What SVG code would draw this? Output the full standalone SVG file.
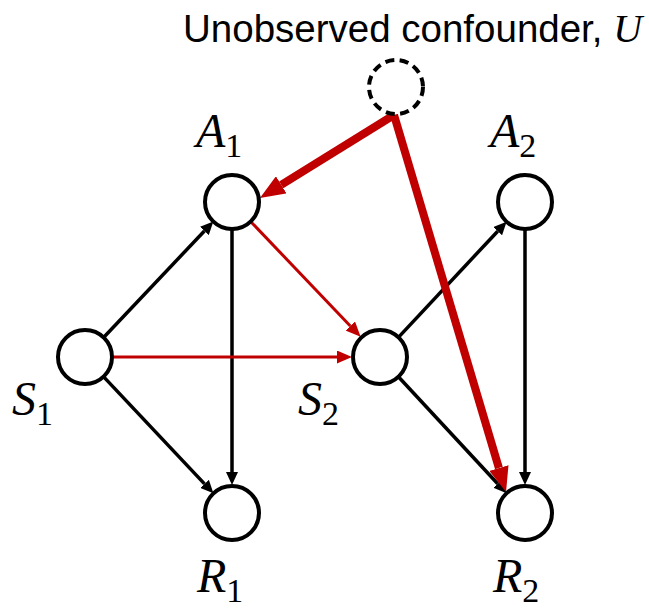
<svg xmlns="http://www.w3.org/2000/svg" width="649" height="613" viewBox="0 0 649 613">
<defs>
<style>
.node{fill:#fff;stroke:#000;stroke-width:4}
.dash{stroke-dasharray:9 5.5}
.blk{stroke:#000;stroke-width:3.5;fill:none}
.red{stroke:#C00000;stroke-width:3;fill:none}
.redT{stroke:#C00000;stroke-width:8;fill:none}
.lbl{font-family:"Liberation Serif",serif;font-style:italic;font-size:48px}
.sub{font-family:"Liberation Serif",serif;font-style:normal;font-size:34px}
.title{font-family:"Liberation Sans",Arial,sans-serif;font-size:38.5px}
</style>
<marker id="ab" markerUnits="userSpaceOnUse" markerWidth="14" markerHeight="12" refX="0" refY="6" orient="auto"><path d="M0,0 L13,6 L0,12 z" fill="#000"/></marker>
<marker id="ar" markerUnits="userSpaceOnUse" markerWidth="16" markerHeight="13" refX="0" refY="6.5" orient="auto"><path d="M0,0 L15,6.5 L0,13 z" fill="#C00000"/></marker>
<marker id="arT" markerUnits="userSpaceOnUse" markerWidth="26" markerHeight="20" refX="0" refY="10" orient="auto"><path d="M0,0 L25,10 L0,20 z" fill="#C00000"/></marker>
</defs>
<rect width="649" height="613" fill="#fff"/>
<g id="connectors">
<line class="blk" x1="104.3" y1="336.7" x2="204.4" y2="231.0" marker-end="url(#ab)"/>
<line class="blk" x1="104.2" y1="377.4" x2="204.5" y2="483.9" marker-end="url(#ab)"/>
<line class="blk" x1="232" y1="230" x2="232" y2="472" marker-end="url(#ab)"/>
<line class="blk" x1="399.1" y1="336.6" x2="497.7" y2="231.2" marker-end="url(#ab)"/>
<line class="blk" x1="399.1" y1="377.5" x2="497.7" y2="483.7" marker-end="url(#ab)"/>
<line class="blk" x1="525" y1="230" x2="525" y2="472" marker-end="url(#ab)"/>
<line class="red" x1="113" y1="357" x2="337" y2="357" marker-end="url(#ar)"/>
<line class="red" x1="251.3" y1="222.2" x2="350.3" y2="326.0" marker-end="url(#ar)"/>
<line class="redT" x1="394" y1="115" x2="281.2" y2="184.8" marker-end="url(#arT)"/>
<line class="redT" x1="394" y1="115" x2="498.9" y2="468.0" marker-end="url(#arT)"/>
</g>
<g id="U"><circle class="node dash" cx="396" cy="87" r="27"/>
<text class="title" x="183" y="42">Unobserved confounder, <tspan font-family="'Liberation Serif',serif" font-style="italic" font-size="40">U</tspan></text></g>
<g id="A1"><circle class="node" cx="232" cy="202" r="27"/><text class="lbl" x="196" y="147">A<tspan class="sub" dy="10">1</tspan></text></g>
<g id="A2"><circle class="node" cx="525" cy="202" r="27"/><text class="lbl" x="490" y="147">A<tspan class="sub" dy="10">2</tspan></text></g>
<g id="S1"><circle class="node" cx="85" cy="357" r="27"/><text class="lbl" x="12" y="415">S<tspan class="sub" dy="10">1</tspan></text></g>
<g id="S2"><circle class="node" cx="380" cy="357" r="27"/><text class="lbl" x="298" y="415">S<tspan class="sub" dy="10">2</tspan></text></g>
<g id="R1"><circle class="node" cx="232" cy="513" r="27"/><text class="lbl" x="197" y="592">R<tspan class="sub" dy="10">1</tspan></text></g>
<g id="R2"><circle class="node" cx="525" cy="513" r="27"/><text class="lbl" x="493" y="592">R<tspan class="sub" dy="10">2</tspan></text></g>
</svg>
